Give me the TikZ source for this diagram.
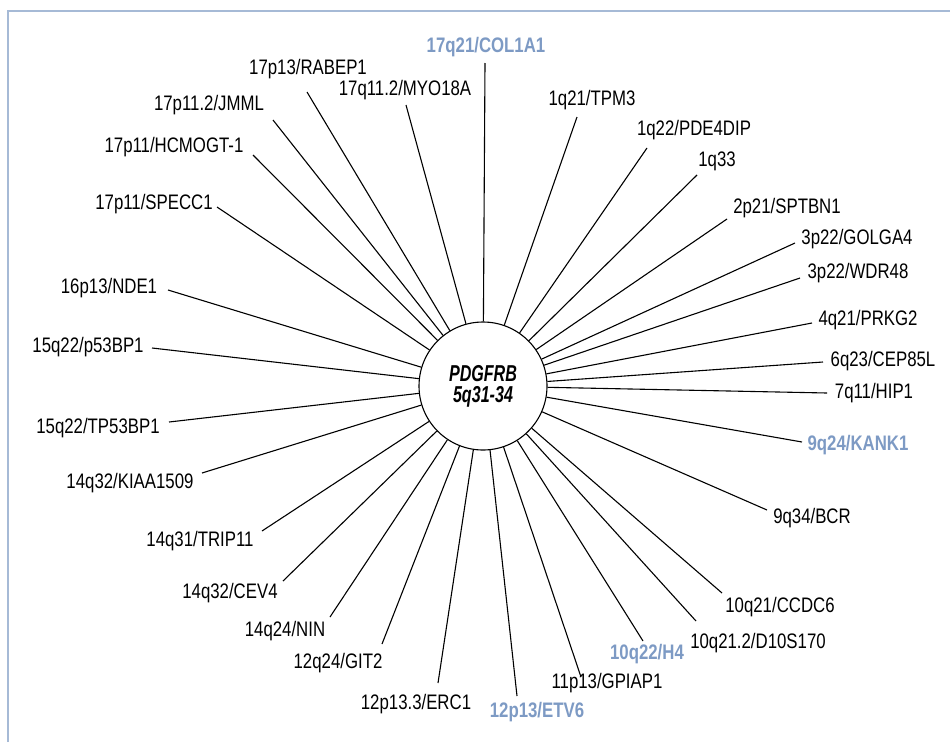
\documentclass[tikz,border=0pt]{standalone}
\usepackage{fontspec}
\setmainfont{Liberation Sans}[FakeStretch=0.80]
\newfontfamily\hubfont{Liberation Sans}[FakeStretch=0.70]
\definecolor{framebl}{RGB}{166,186,214}
\definecolor{hotbl}{RGB}{125,154,196}

\begin{document}
\begin{tikzpicture}[x=1pt,y=-1pt,line width=1.1pt,
  lbl/.style={font=\fontsize{21}{24}\selectfont,inner sep=0pt},
  hot/.style={lbl,font=\fontsize{21}{24}\selectfont\bfseries,text=hotbl}]

\useasboundingbox (0,0) rectangle (950,742);

% frame
\draw [framebl,line width=2pt] (8,742) -- (8,11) -- (950,11);

% hub
\node [draw,circle,minimum size=128pt,inner sep=0pt,align=center,
  font=\hubfont\fontsize{23}{21}\selectfont\bfseries\itshape] (hub) at (483,386) {PDGFRB\\5q31-34};

% top and right side partners
\node [hot] (col1a1) at (486,47) {17q21/COL1A1};
\coordinate (col1a1e) at (485,63);
\draw (col1a1e) -- (hub);

\node [lbl] (tpm3) at (592,100) {1q21/TPM3};
\coordinate (tpm3e) at (577,117);
\draw (tpm3e) -- (hub);

\node [lbl] (pde4dip) at (694,130) {1q22/PDE4DIP};
\coordinate (pde4dipe) at (647,148);
\draw (pde4dipe) -- (hub);

\node [lbl] (q33) at (717,161) {1q33};
\coordinate (q33e) at (697,175);
\draw (q33e) -- (hub);

\node [lbl] (sptbn1) at (787,208) {2p21/SPTBN1};
\coordinate (sptbn1e) at (727,219);
\draw (sptbn1e) -- (hub);

\node [lbl] (golga4) at (857,239) {3p22/GOLGA4};
\coordinate (golga4e) at (795,243);
\draw (golga4e) -- (hub);

\node [lbl] (wdr48) at (858,273) {3p22/WDR48};
\coordinate (wdr48e) at (800,278);
\draw (wdr48e) -- (hub);

\node [lbl] (prkg2) at (868,320) {4q21/PRKG2};
\coordinate (prkg2e) at (812,323);
\draw (prkg2e) -- (hub);

\node [lbl] (cep85l) at (883,361) {6q23/CEP85L};
\coordinate (cep85le) at (823,362);
\draw (cep85le) -- (hub);

\node [lbl] (hip1) at (874,393) {7q11/HIP1};
\coordinate (hip1e) at (827,393);
\draw (hip1e) -- (hub);

\node [hot] (kank1) at (858,445) {9q24/KANK1};
\coordinate (kank1e) at (802,442);
\draw (kank1e) -- (hub);

\node [lbl] (bcr) at (812,518) {9q34/BCR};
\coordinate (bcre) at (767,510);
\draw (bcre) -- (hub);

% bottom partners
\node [lbl] (ccdc6) at (780,607) {10q21/CCDC6};
\coordinate (ccdc6e) at (722,593);
\draw (ccdc6e) -- (hub);

\node [lbl] (d10s170) at (758,643) {10q21.2/D10S170};
\coordinate (d10s170e) at (696,621);
\draw (d10s170e) -- (hub);

\node [hot] (h4) at (647,654) {10q22/H4};
\coordinate (h4e) at (643,641);
\draw (h4e) -- (hub);

\node [lbl] (gpiap1) at (607,683) {11p13/GPIAP1};
\coordinate (gpiap1e) at (581,677);
\draw (gpiap1e) -- (hub);

\node [hot] (etv6) at (537,712) {12p13/ETV6};
\coordinate (etv6e) at (517,696);
\draw (etv6e) -- (hub);

\node [lbl] (erc1) at (416,704) {12p13.3/ERC1};
\coordinate (erc1e) at (438,683);
\draw (erc1e) -- (hub);

\node [lbl] (git2) at (338,663) {12q24/GIT2};
\coordinate (git2e) at (382,644);
\draw (git2e) -- (hub);

% left side partners
\node [lbl] (nin) at (285,631) {14q24/NIN};
\coordinate (nine) at (330,617);
\draw (nine) -- (hub);

\node [lbl] (cev4) at (230,593) {14q32/CEV4};
\coordinate (cev4e) at (283,581);
\draw (cev4e) -- (hub);

\node [lbl] (trip11) at (200,541) {14q31/TRIP11};
\coordinate (trip11e) at (262,531);
\draw (trip11e) -- (hub);

\node [lbl] (kiaa1509) at (130,483) {14q32/KIAA1509};
\coordinate (kiaa1509e) at (202,473);
\draw (kiaa1509e) -- (hub);

\node [lbl] (tp53bp1) at (98,428) {15q22/TP53BP1};
\coordinate (tp53bp1e) at (169,422);
\draw (tp53bp1e) -- (hub);

\node [lbl] (p53bp1) at (88,347) {15q22/p53BP1};
\coordinate (p53bp1e) at (152,348);
\draw (p53bp1e) -- (hub);

\node [lbl] (nde1) at (109,288) {16p13/NDE1};
\coordinate (nde1e) at (168,290);
\draw (nde1e) -- (hub);

\node [lbl] (specc1) at (154,204) {17p11/SPECC1};
\coordinate (specc1e) at (217,207);
\draw (specc1e) -- (hub);

\node [lbl] (hcmogt) at (174,147) {17p11/HCMOGT-1};
\coordinate (hcmogte) at (253,155);
\draw (hcmogte) -- (hub);

\node [lbl] (jmml) at (209,105) {17p11.2/JMML};
\coordinate (jmmle) at (273,120);
\draw (jmmle) -- (hub);

\node [lbl] (rabep1) at (308,69) {17p13/RABEP1};
\coordinate (rabep1e) at (307,92);
\draw (rabep1e) -- (hub);

\node [lbl] (myo18a) at (405,90) {17q11.2/MYO18A};
\coordinate (myo18ae) at (406,105);
\draw (myo18ae) -- (hub);

\end{tikzpicture}
\end{document}
